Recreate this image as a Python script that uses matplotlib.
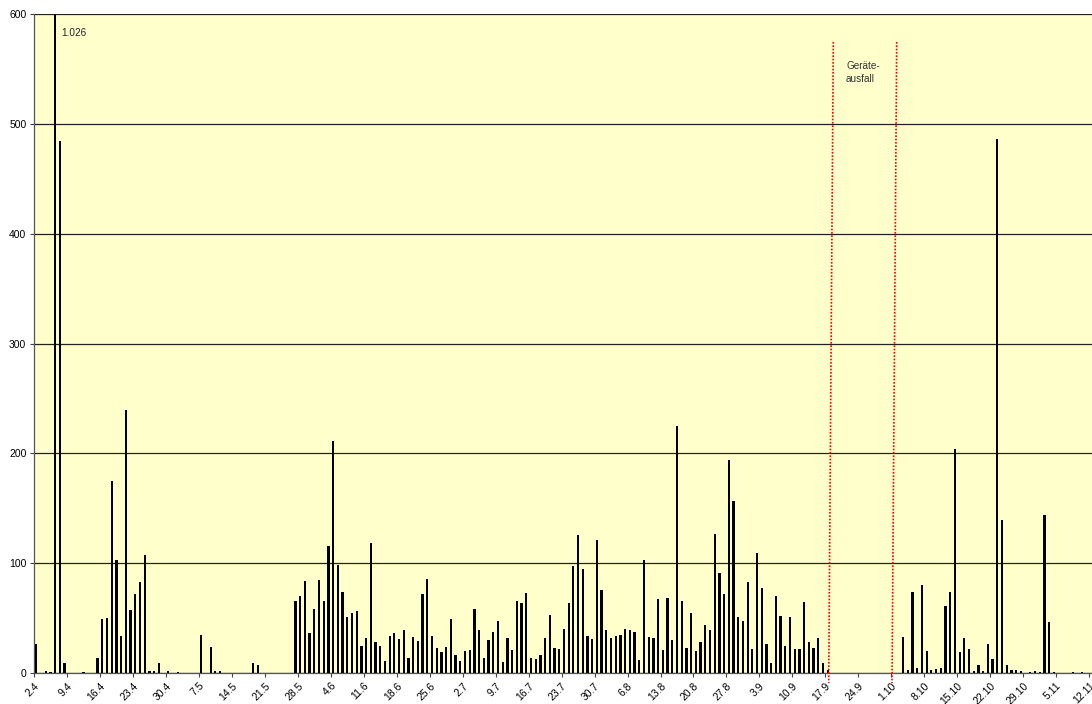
import numpy as np
import matplotlib
matplotlib.use("Agg")
from matplotlib import pyplot as plt
from matplotlib.lines import Line2D

plt.rcParams['font.family'] = ['Liberation Sans', 'DejaVu Sans']

# Tageswerte ab 2.4. (eine Zeile = eine Woche)
werte = [
    26, 0, 2, 1, 1026, 484, 9,        # 2.4
    0, 0, 0, 1, 0, 0, 14,             # 9.4
    49, 50, 175, 103, 34, 239, 57,    # 16.4
    72, 83, 107, 2, 2, 9, 0,          # 23.4
    2, 0, 1, 0, 0, 0, 0,              # 30.4
    35, 0, 24, 2, 2, 0, 0,            # 7.5
    0, 0, 0, 0, 9, 7, 0,              # 14.5
    0, 0, 0, 0, 0, 0, 66,             # 21.5
    70, 84, 36, 58, 85, 66, 116,      # 28.5
    211, 98, 74, 51, 55, 56, 25,      # 4.6
    32, 118, 28, 25, 11, 34, 36,      # 11.6
    31, 39, 14, 33, 29, 72, 86,       # 18.6
    34, 23, 19, 24, 49, 16, 11,       # 25.6
    20, 21, 58, 39, 14, 30, 37,       # 2.7
    47, 10, 32, 21, 66, 64, 73,       # 9.7
    14, 13, 16, 32, 53, 23, 22,       # 16.7
    40, 64, 97, 126, 95, 34, 31,      # 23.7
    121, 76, 39, 32, 34, 35, 40,      # 30.7
    39, 37, 12, 103, 33, 32, 67,      # 6.8
    21, 68, 30, 225, 66, 23, 55,      # 13.8
    20, 28, 44, 39, 127, 91, 72,      # 20.8
    194, 157, 51, 47, 83, 22, 109,    # 27.8
    77, 26, 9, 70, 52, 25, 51,        # 3.9
    22, 22, 65, 28, 23, 32, 9,        # 10.9
    3, 0, 0, 0, 0, 0, 0,              # 17.9
    0, 0, 0, 0, 0, 0, 0,              # 24.9
    0, 0, 33, 3, 74, 5, 80,           # 1.10
    20, 3, 4, 5, 61, 74, 204,         # 8.10
    19, 32, 22, 2, 7, 2, 26,          # 15.10
    13, 486, 139, 7, 3, 3, 2,         # 22.10
    0, 1, 2, 1, 144, 46, 1,           # 29.10
    0, 0, 0, 1, 0, 1, 0,              # 5.11
    0,                                # 12.11
]

wochen_labels = ['2.4', '9.4', '16.4', '23.4', '30.4', '7.5', '14.5', '21.5',
                 '28.5', '4.6', '11.6', '18.6', '25.6', '2.7', '9.7', '16.7',
                 '23.7', '30.7', '6.8', '13.8', '20.8', '27.8', '3.9', '10.9',
                 '17.9', '24.9', '1.10', '8.10', '15.10', '22.10', '29.10',
                 '5.11', '12.11']

y_ticks = [0, 100, 200, 300, 400, 500, 600]
max_label = '1.026'

fig = plt.figure(figsize=(10.92, 7.04), dpi=100)
ax = fig.add_axes([34 / 1092, 1 - 673 / 704, 1 - 34 / 1092, (673 - 14) / 704])
ax.set_facecolor('#FFFFCC')

tage = np.arange(len(werte))
ax.bar(tage, werte, width=0.48, color='black', zorder=3)

ax.set_ylim(0, 600)
ax.set_xlim(-0.5, 224.1)
ax.set_yticks(y_ticks)
ax.set_yticklabels([str(v) for v in y_ticks], fontsize=7.5)
ax.yaxis.grid(True, color='#222222', linewidth=0.9, zorder=1)
ax.set_axisbelow(True)

ax.set_xticks(np.arange(len(wochen_labels)) * 7 - 0.5)
ax.set_xticklabels(wochen_labels, fontsize=7.5, rotation=45, ha='right',
                   va='top', rotation_mode='anchor')
ax.tick_params(axis='both', length=3, width=0.8, color='#444444', pad=2.5)

for s in ['top', 'right']:
    ax.spines[s].set_visible(False)
for s in ['left', 'bottom']:
    ax.spines[s].set_color('#555555')
    ax.spines[s].set_linewidth(0.9)

# Wert des abgeschnittenen Balkens
ax.annotate(max_label, xy=(4, 600), xytext=(4.5, -10), textcoords='offset points',
            ha='left', va='top', fontsize=7.2, color='#222222')

ax.text(171.9, 557, 'Geräte-\nausfall', ha='left', va='top', fontsize=7.2,
        color='#333333', linespacing=1.3)

# rote gepunktete Linien (Geräteausfall)
for x_oben, x_unten in [(833.3, 828.7), (896.7, 892.0)]:
    fig.add_artist(Line2D([x_oben / 1092, x_unten / 1092], [1 - 42 / 704, 1 - 683 / 704],
                          color='red', linestyle=(0, (1, 1)), linewidth=1.2, zorder=5))

fig.savefig('out.png', dpi=100, facecolor='white')
